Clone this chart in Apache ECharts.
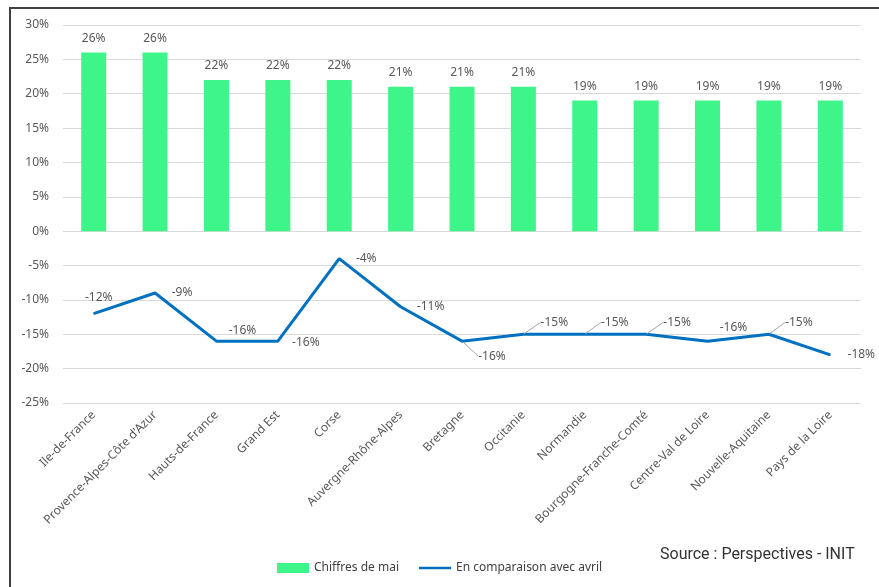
<!DOCTYPE html>
<html>
<head>
<meta charset="UTF-8">
<title>Chiffres de mai</title>
<script src="https://cdn.jsdelivr.net/npm/echarts@6/dist/echarts.min.js"></script>
<style>
  html, body { margin: 0; padding: 0; background: #fff; }
  #main { width: 879px; height: 587px; }
</style>
</head>
<body>
<div id="main"></div>
<script>
var regions = ['Ile-de-France', 'Provence-Alpes-Côte d\'Azur', 'Hauts-de-France', 'Grand Est', 'Corse',
  'Auvergne-Rhône-Alpes', 'Bretagne', 'Occitanie', 'Normandie', 'Bourgogne-Franche-Comté',
  'Centre-Val de Loire', 'Nouvelle-Aquitaine', 'Pays de la Loire'];
var mai = [26, 26, 22, 22, 22, 21, 21, 21, 19, 19, 19, 19, 19];
var avril = [-12, -9, -16, -16, -4, -11, -16, -15, -15, -15, -16, -15, -18];

// label placement for the line labels (offset from point), and which get a leader line
var lblOffset = [[5, -16], [27, 0], [26, -11], [28, 1], [27, 0], [30, 0], [30, 15], [31, -12], [30, -12], [31, -12], [26, -14], [30, -12], [31, 0]];
var leader = [false, false, false, false, false, false, true, true, true, true, false, true, false];

var grey = '#595959';
var font = 'Noto Sans';

var lineData = avril.map(function (v, i) {
  return {
    value: v,
    labelLine: { show: leader[i] }
  };
});

var myChart = echarts.init(document.getElementById('main'));
var option = {
  animation: false,
  textStyle: { fontFamily: font },
  grid: { left: 63, right: 18, top: 25, bottom: 184 },
  legend: {
    bottom: 8,
    left: 272,
    itemGap: 20,
    itemWidth: 32,
    itemHeight: 10,
    textStyle: { color: '#404040', fontSize: 12, fontFamily: font },
    data: [
      { name: 'Chiffres de mai', icon: 'rect' },
      { name: 'En comparaison avec avril', icon: 'path://M0,4 L40,4 L40,7 L0,7 Z', itemStyle: { color: '#0070c0' } }
    ]
  },
  xAxis: {
    type: 'category',
    data: regions,
    axisLine: { show: false, onZero: false },
    axisTick: { show: false },
    axisLabel: { rotate: 45, color: grey, fontSize: 12, interval: 0, margin: 10 }
  },
  yAxis: {
    type: 'value',
    min: -25,
    max: 30,
    interval: 5,
    axisLabel: { formatter: '{value}%', color: grey, fontSize: 12, margin: 14 },
    axisLine: { show: false },
    axisTick: { show: false },
    splitLine: { lineStyle: { color: '#d9d9d9', width: 1 } }
  },
  series: [
    {
      name: 'Chiffres de mai',
      type: 'bar',
      data: mai,
      barWidth: 25,
      itemStyle: { color: '#3ef58a' },
      label: { show: true, position: 'top', distance: 8, formatter: '{c}%', color: grey, fontSize: 12 }
    },
    {
      name: 'En comparaison avec avril',
      type: 'line',
      data: lineData,
      symbol: 'circle',
      symbolSize: 1,
      itemStyle: { color: '#0070c0' },
      lineStyle: { color: '#0070c0', width: 3 },
      label: { show: true, position: 'inside', formatter: '{c}%', color: grey, fontSize: 12 },
      labelLayout: function (p) {
        var o = lblOffset[p.dataIndex];
        return { dx: o[0], dy: o[1] };
      },
      labelLine: { show: false, lineStyle: { color: '#a6a6a6', width: 1 }, length2: 0 }
    }
  ],
  graphic: [
    {
      type: 'rect',
      shape: { x: 10, y: 8, width: 900, height: 600 },
      style: { fill: 'none', stroke: '#404040', lineWidth: 2 },
      silent: true
    },
    {
      type: 'text',
      left: 660,
      top: 547,
      style: { text: 'Source : Perspectives - INIT', font: '16px Roboto', fill: '#333' }
    }
  ]
};
myChart.setOption(option);
</script>
</body>
</html>
